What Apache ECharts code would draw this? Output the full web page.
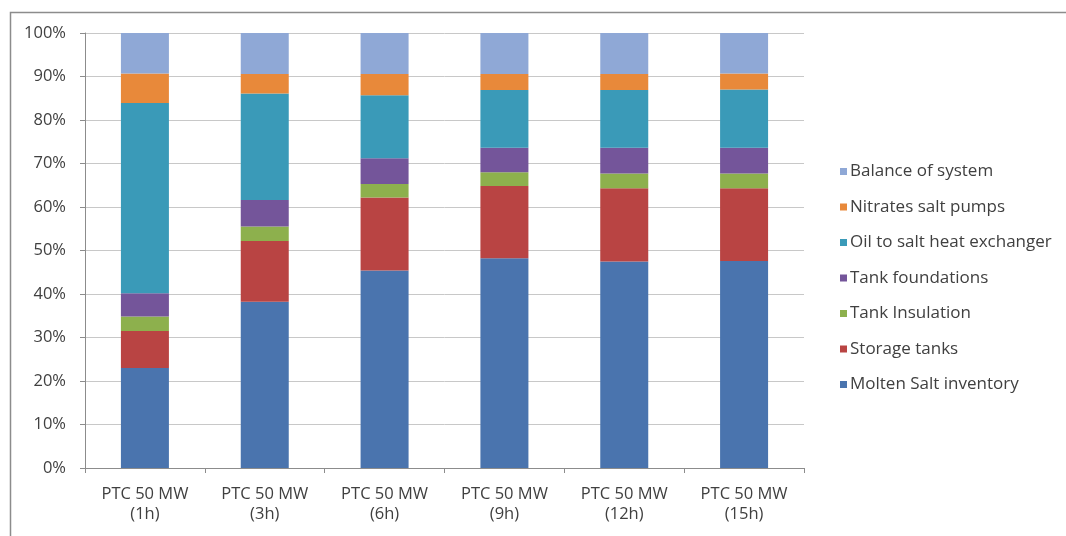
<!DOCTYPE html>
<html>
<head>
<meta charset="utf-8">
<script src="https://cdn.jsdelivr.net/npm/echarts@6/dist/echarts.min.js"></script>
<style>html,body{margin:0;padding:0;background:#fff;}#c{width:1066px;height:536px;}</style>
</head>
<body>
<div id="c"></div>
<script>
const categories = ['PTC 50 MW\n(1h)', 'PTC 50 MW\n(3h)', 'PTC 50 MW\n(6h)', 'PTC 50 MW\n(9h)', 'PTC 50 MW\n(12h)', 'PTC 50 MW\n(15h)'];
const yTicks = [0, 10, 20, 30, 40, 50, 60, 70, 80, 90, 100];
const moltenSalt = [23.0, 38.2, 45.4, 48.2, 47.5, 47.6];
const storageTanks = [8.5, 14.0, 16.8, 16.6, 16.8, 16.7];
const tankInsulation = [3.3, 3.3, 3.1, 3.2, 3.4, 3.4];
const tankFoundations = [5.4, 6.1, 5.9, 5.6, 5.9, 5.9];
const oilToSalt = [43.7, 24.5, 14.5, 13.3, 13.3, 13.4];
const nitratesPumps = [6.8, 4.5, 4.9, 3.7, 3.7, 3.7];
const balanceOfSystem = [9.3, 9.4, 9.4, 9.4, 9.4, 9.3];

const seriesDefs = [
  ['Molten Salt inventory', moltenSalt, '#4A74AE'],
  ['Storage tanks', storageTanks, '#B94443'],
  ['Tank Insulation', tankInsulation, '#8DB04D'],
  ['Tank foundations', tankFoundations, '#74559A'],
  ['Oil to salt heat exchanger', oilToSalt, '#3A9AB8'],
  ['Nitrates salt pumps', nitratesPumps, '#E8893A'],
  ['Balance of system', balanceOfSystem, '#8FA8D6']
];

const font = '"Open Sans", "DejaVu Sans", sans-serif';
const chart = echarts.init(document.getElementById('c'));
chart.setOption({
  animation: false,
  backgroundColor: '#fff',
  graphic: [{
    type: 'rect', left: 8, top: 10, z: -1,
    shape: { width: 1200, height: 700 },
    style: { fill: 'none', stroke: '#8c8c8c', lineWidth: 1.5 }
  }],
  grid: { left: 85, right: 262, top: 33, bottom: 68 },
  legend: {
    orient: 'vertical', left: 835, top: 158,
    itemWidth: 7, itemHeight: 7, itemGap: 18.5, icon: 'rect',
    data: seriesDefs.map(d => d[0]).reverse(),
    textStyle: { fontFamily: font, fontSize: 17, color: '#404040', padding: [0, 0, 0, -2] }
  },
  xAxis: {
    type: 'category', data: categories,
    axisLine: { lineStyle: { color: '#8c8c8c' } },
    axisTick: { show: true, length: 5, lineStyle: { color: '#8c8c8c' } },
    axisLabel: { fontFamily: font, fontSize: 16.5, color: '#404040', lineHeight: 20, margin: 16 }
  },
  yAxis: {
    type: 'value', min: 0, max: 100, interval: 10,
    axisLine: { show: true, lineStyle: { color: '#8c8c8c' } },
    axisTick: { show: true, length: 5, lineStyle: { color: '#8c8c8c' } },
    splitLine: { lineStyle: { color: '#c8c8c8' } },
    axisLabel: { fontFamily: font, fontSize: 16.5, color: '#404040', margin: 19,
      formatter: v => yTicks.indexOf(v) >= 0 ? v + '%' : '' }
  },
  series: seriesDefs.map(d => ({
    name: d[0], type: 'bar', stack: 'total', data: d[1],
    barWidth: 48, itemStyle: { color: d[2] }
  }))
});
</script>
</body>
</html>
